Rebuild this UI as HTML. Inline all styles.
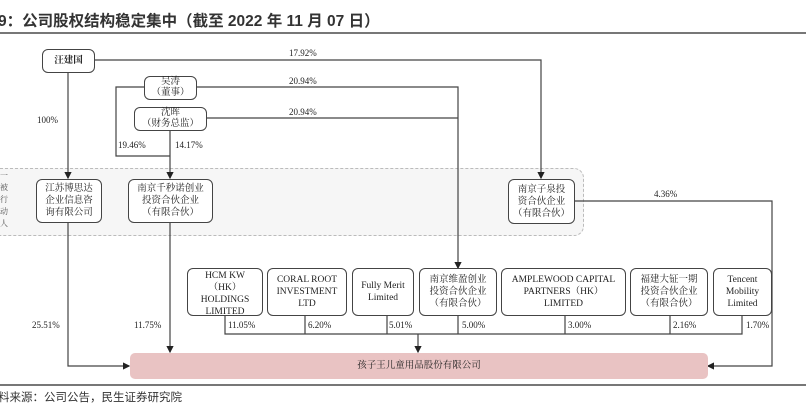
<!DOCTYPE html>
<html><head><meta charset="utf-8"><style>
body{margin:0;width:806px;height:405px;background:#fff;overflow:hidden;position:relative;font-family:"Liberation Serif","Noto Serif CJK SC",serif;color:#222}
.t{position:absolute;white-space:nowrap}
.b{position:absolute;border:1.3px solid #444;border-radius:6px;background:#fff;box-sizing:border-box;display:flex;align-items:center;justify-content:center;text-align:center;font-size:9.5px;line-height:12px}
.s{line-height:11px}
.p{position:absolute;font-size:9px;font-family:"Liberation Serif",serif}
</style></head><body>
<div class="t" style="left:-2px;top:9px;font-size:15.5px;font-weight:bold;font-family:'Liberation Sans','Noto Sans CJK SC',sans-serif;color:#333">9：公司股权结构稳定集中（截至 2022 年 11 月 07 日）</div>
<div style="position:absolute;left:0;top:32px;width:806px;height:2px;background:#777"></div>
<div style="position:absolute;left:-10px;top:168px;width:592px;height:66px;border:1.3px dashed #bbb;border-radius:10px;background:#f6f6f6"></div>
<div class="t" style="left:0;top:170px;font-size:8px;line-height:12px;color:#555">一<br>被<br>行<br>动<br>人</div>
<svg width="806" height="405" style="position:absolute;left:0;top:0" fill="none" stroke="#444" stroke-width="1.2">
<defs><marker id="a" markerWidth="6" markerHeight="6" refX="5" refY="3" orient="auto"><path d="M0,0L6,3L0,6z" fill="#222" stroke="none"/></marker></defs>
<path d="M94,60H541V178" marker-end="url(#a)"/>
<path d="M196,87H458V268" marker-end="url(#a)"/>
<path d="M206,118H458"/>
<path d="M144,87H116V156H170"/>
<path d="M170,130V178" marker-end="url(#a)"/>
<path d="M68,72V178" marker-end="url(#a)"/>
<path d="M68,222V366H129" marker-end="url(#a)"/>
<path d="M170,222V352" marker-end="url(#a)"/>
<path d="M574,201H772V366H708" marker-end="url(#a)"/>
<path d="M225,316V334H742V316M305,316V334M387,316V334M458,316V334M565,316V334M670,316V334"/>
<path d="M418,334V352" marker-end="url(#a)"/>
</svg>
<div class="b" style="left:42px;top:49px;width:53px;height:24px;font-weight:bold">汪建国</div>
<div class="b s" style="left:144px;top:76px;width:53px;height:24px">吴涛<br>（董事）</div>
<div class="b s" style="left:134px;top:107px;width:73px;height:24px">沈晖<br>（财务总监）</div>
<div class="b" style="left:36px;top:179px;width:66px;height:44px">江苏博思达<br>企业信息咨<br>询有限公司</div>
<div class="b" style="left:128px;top:179px;width:85px;height:44px">南京千秒诺创业<br>投资合伙企业<br>（有限合伙）</div>
<div class="b" style="left:508px;top:179px;width:67px;height:45px">南京子泉投<br>资合伙企业<br>（有限合伙）</div>
<div class="b" style="left:187px;top:268px;width:76px;height:48px;align-items:flex-start;padding-top:1px">HCM KW<br>（HK）<br>HOLDINGS<br>LIMITED</div>
<div class="b" style="left:267px;top:268px;width:80px;height:48px">CORAL ROOT<br>INVESTMENT<br>LTD</div>
<div class="b" style="left:352px;top:268px;width:62px;height:48px">Fully Merit<br>Limited</div>
<div class="b" style="left:419px;top:268px;width:78px;height:48px">南京维盈创业<br>投资合伙企业<br>（有限合伙）</div>
<div class="b" style="left:501px;top:268px;width:125px;height:48px">AMPLEWOOD CAPITAL<br>PARTNERS（HK）<br>LIMITED</div>
<div class="b" style="left:630px;top:268px;width:78px;height:48px">福建大钲一期<br>投资合伙企业<br>（有限合伙）</div>
<div class="b" style="left:713px;top:268px;width:59px;height:48px">Tencent<br>Mobility<br>Limited</div>
<div class="b" style="left:130px;top:353px;width:578px;height:26px;background:#e9c3c3;border:none;border-radius:5px">孩子王儿童用品股份有限公司</div>
<div class="p" style="left:289px;top:48px">17.92%</div>
<div class="p" style="left:289px;top:76px">20.94%</div>
<div class="p" style="left:289px;top:107px">20.94%</div>
<div class="p" style="left:37px;top:115px">100%</div>
<div class="p" style="left:118px;top:140px">19.46%</div>
<div class="p" style="left:175px;top:140px">14.17%</div>
<div class="p" style="left:654px;top:189px">4.36%</div>
<div class="p" style="left:32px;top:320px">25.51%</div>
<div class="p" style="left:134px;top:320px">11.75%</div>
<div class="p" style="left:228px;top:320px">11.05%</div>
<div class="p" style="left:308px;top:320px">6.20%</div>
<div class="p" style="left:389px;top:320px">5.01%</div>
<div class="p" style="left:462px;top:320px">5.00%</div>
<div class="p" style="left:568px;top:320px">3.00%</div>
<div class="p" style="left:673px;top:320px">2.16%</div>
<div class="p" style="left:746px;top:320px">1.70%</div>
<div style="position:absolute;left:0;top:384px;width:806px;height:1.5px;background:#777"></div>
<div class="t" style="left:-2px;top:389px;font-size:11.5px;font-family:'Liberation Sans','Noto Sans CJK SC',sans-serif;color:#333">料来源：公司公告，民生证券研究院</div>
</body></html>
